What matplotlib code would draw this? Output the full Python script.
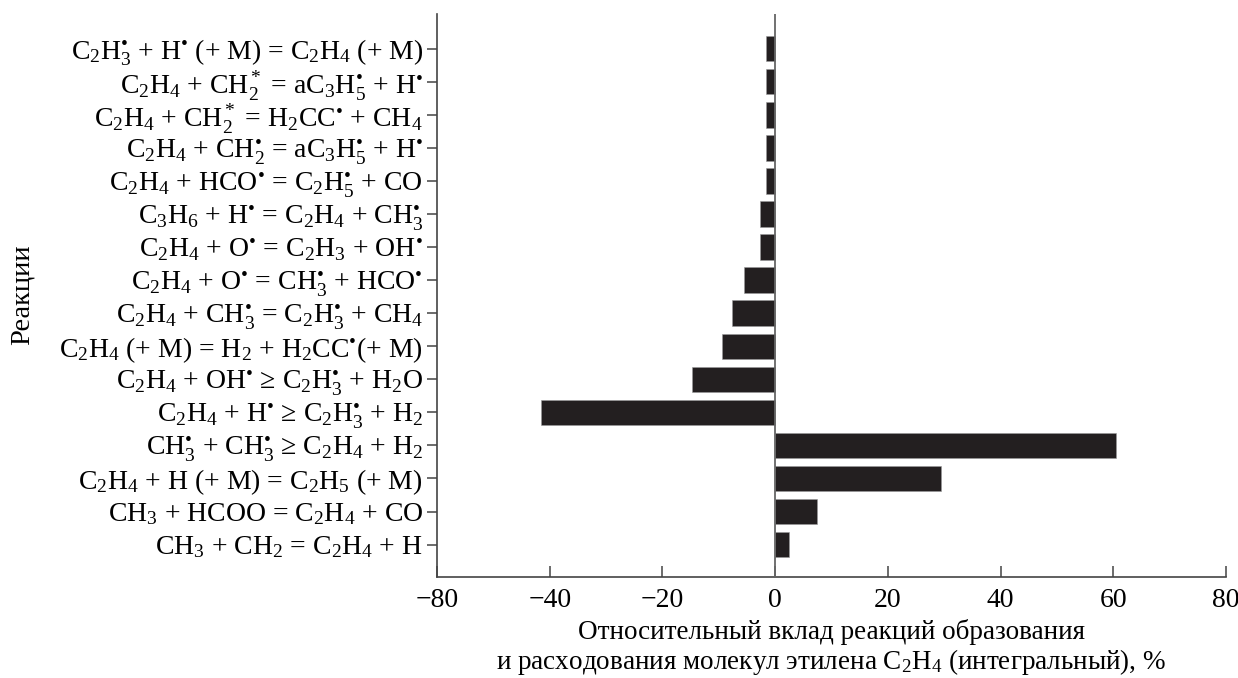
import matplotlib
matplotlib.use("Agg")
import matplotlib.pyplot as plt

plt.rcParams['font.family'] = ['Liberation Serif', 'DejaVu Serif']
plt.rcParams['mathtext.fontset'] = 'custom'
plt.rcParams['mathtext.rm'] = 'Liberation Serif'
plt.rcParams['mathtext.it'] = 'Liberation Serif:italic'
plt.rcParams['mathtext.bf'] = 'Liberation Serif:bold'
plt.rcParams['mathtext.fallback'] = 'stix'

D = "\u2022"  # radical dot

# Reactions, bottom to top
reactions = [
    r"CH$_3$ + CH$_2$ = C$_2$H$_4$ + H",
    r"CH$_3$ + HCOO = C$_2$H$_4$ + CO",
    r"C$_2$H$_4$ + H (+ M) = C$_2$H$_5$ (+ M)",
    r"CH$_3^D$ + CH$_3^D$ ≥ C$_2$H$_4$ + H$_2$",
    r"C$_2$H$_4$ + H$^D$ ≥ C$_2$H$_3^D$ + H$_2$",
    r"C$_2$H$_4$ + OH$^D$ ≥ C$_2$H$_3^D$ + H$_2$O",
    r"C$_2$H$_4$ (+ M) = H$_2$ + H$_2$CC$^D$(+ M)",
    r"C$_2$H$_4$ + CH$_3^D$ = C$_2$H$_3^D$ + CH$_4$",
    r"C$_2$H$_4$ + O$^D$ = CH$_3^D$ + HCO$^D$",
    r"C$_2$H$_4$ + O$^D$ = C$_2$H$_3$ + OH$^D$",
    r"C$_3$H$_6$ + H$^D$ = C$_2$H$_4$ + CH$_3^D$",
    r"C$_2$H$_4$ + HCO$^D$ = C$_2$H$_5^D$ + CO",
    r"C$_2$H$_4$ + CH$_2^D$ = aC$_3$H$_5^D$ + H$^D$",
    r"C$_2$H$_4$ + CH$_2^*$ = H$_2$CC$^D$ + CH$_4$",
    r"C$_2$H$_4$ + CH$_2^*$ = aC$_3$H$_5^D$ + H$^D$",
    r"C$_2$H$_3^D$ + H$^D$ (+ M) = C$_2$H$_4$ (+ M)",
]
reactions = [r.replace("^D", "^{" + D + "}") for r in reactions]
values = [2.5, 7.5, 29.5, 60.5, -41.5, -14.7, -9.5, -7.6, -5.6, -2.6, -2.6,
          -1.6, -1.6, -1.6, -1.6, -1.6]

xtick_pos = [-60, -40, -20, 0, 20, 40, 60, 80]
xtick_labels = ["\u221280", "\u221240", "\u221220", "0", "20", "40", "60", "80"]

xlabel_lines = ["Относительный вклад реакций образования",
                "и расходования молекул этилена C$_2$H$_4$ (интегральный), %"]
ylabel = "Реакции"

W, H = 1238, 678
fig = plt.figure(figsize=(W / 100, H / 100), dpi=100)
left, right, top, bottom = 437, 1226, 14, 577
ax = fig.add_axes([left / W, 1 - bottom / H, (right - left) / W, (bottom - top) / H])

ypos = list(range(len(reactions)))
ax.barh(ypos, values, height=0.77, color='#231f20', edgecolor='#9a9a9a', linewidth=0.4, zorder=2)
ax.axvline(0, color='#666666', lw=1.3, zorder=3)

ax.set_xlim(-60, 80)
ax.set_ylim(-0.98, 16.05)
ax.set_xticks(xtick_pos)
ax.set_xticklabels(xtick_labels, fontsize=20)
ax.set_yticks(ypos)
ax.set_yticklabels(reactions, fontsize=20)

for s in ['top', 'right']:
    ax.spines[s].set_visible(False)
for s in ['left', 'bottom']:
    ax.spines[s].set_color('#444444')
    ax.spines[s].set_linewidth(1.2)

ax.tick_params(axis='x', direction='in', length=8, width=1.1, color='#444444', pad=8)
ax.tick_params(axis='y', direction='out', length=7, width=1.1, color='#444444', pad=3)

cx = (left + right) / 2 / W
fig.text(cx, 1 - 639 / H, xlabel_lines[0], ha='center', va='baseline', fontsize=19.5)
fig.text(cx, 1 - 669 / H, xlabel_lines[1], ha='center', va='baseline', fontsize=19.5)
fig.text(22 / W, 1 - 295 / H, ylabel, rotation=90, ha='center', va='center', fontsize=20.5)

fig.savefig("out.png", dpi=100)
